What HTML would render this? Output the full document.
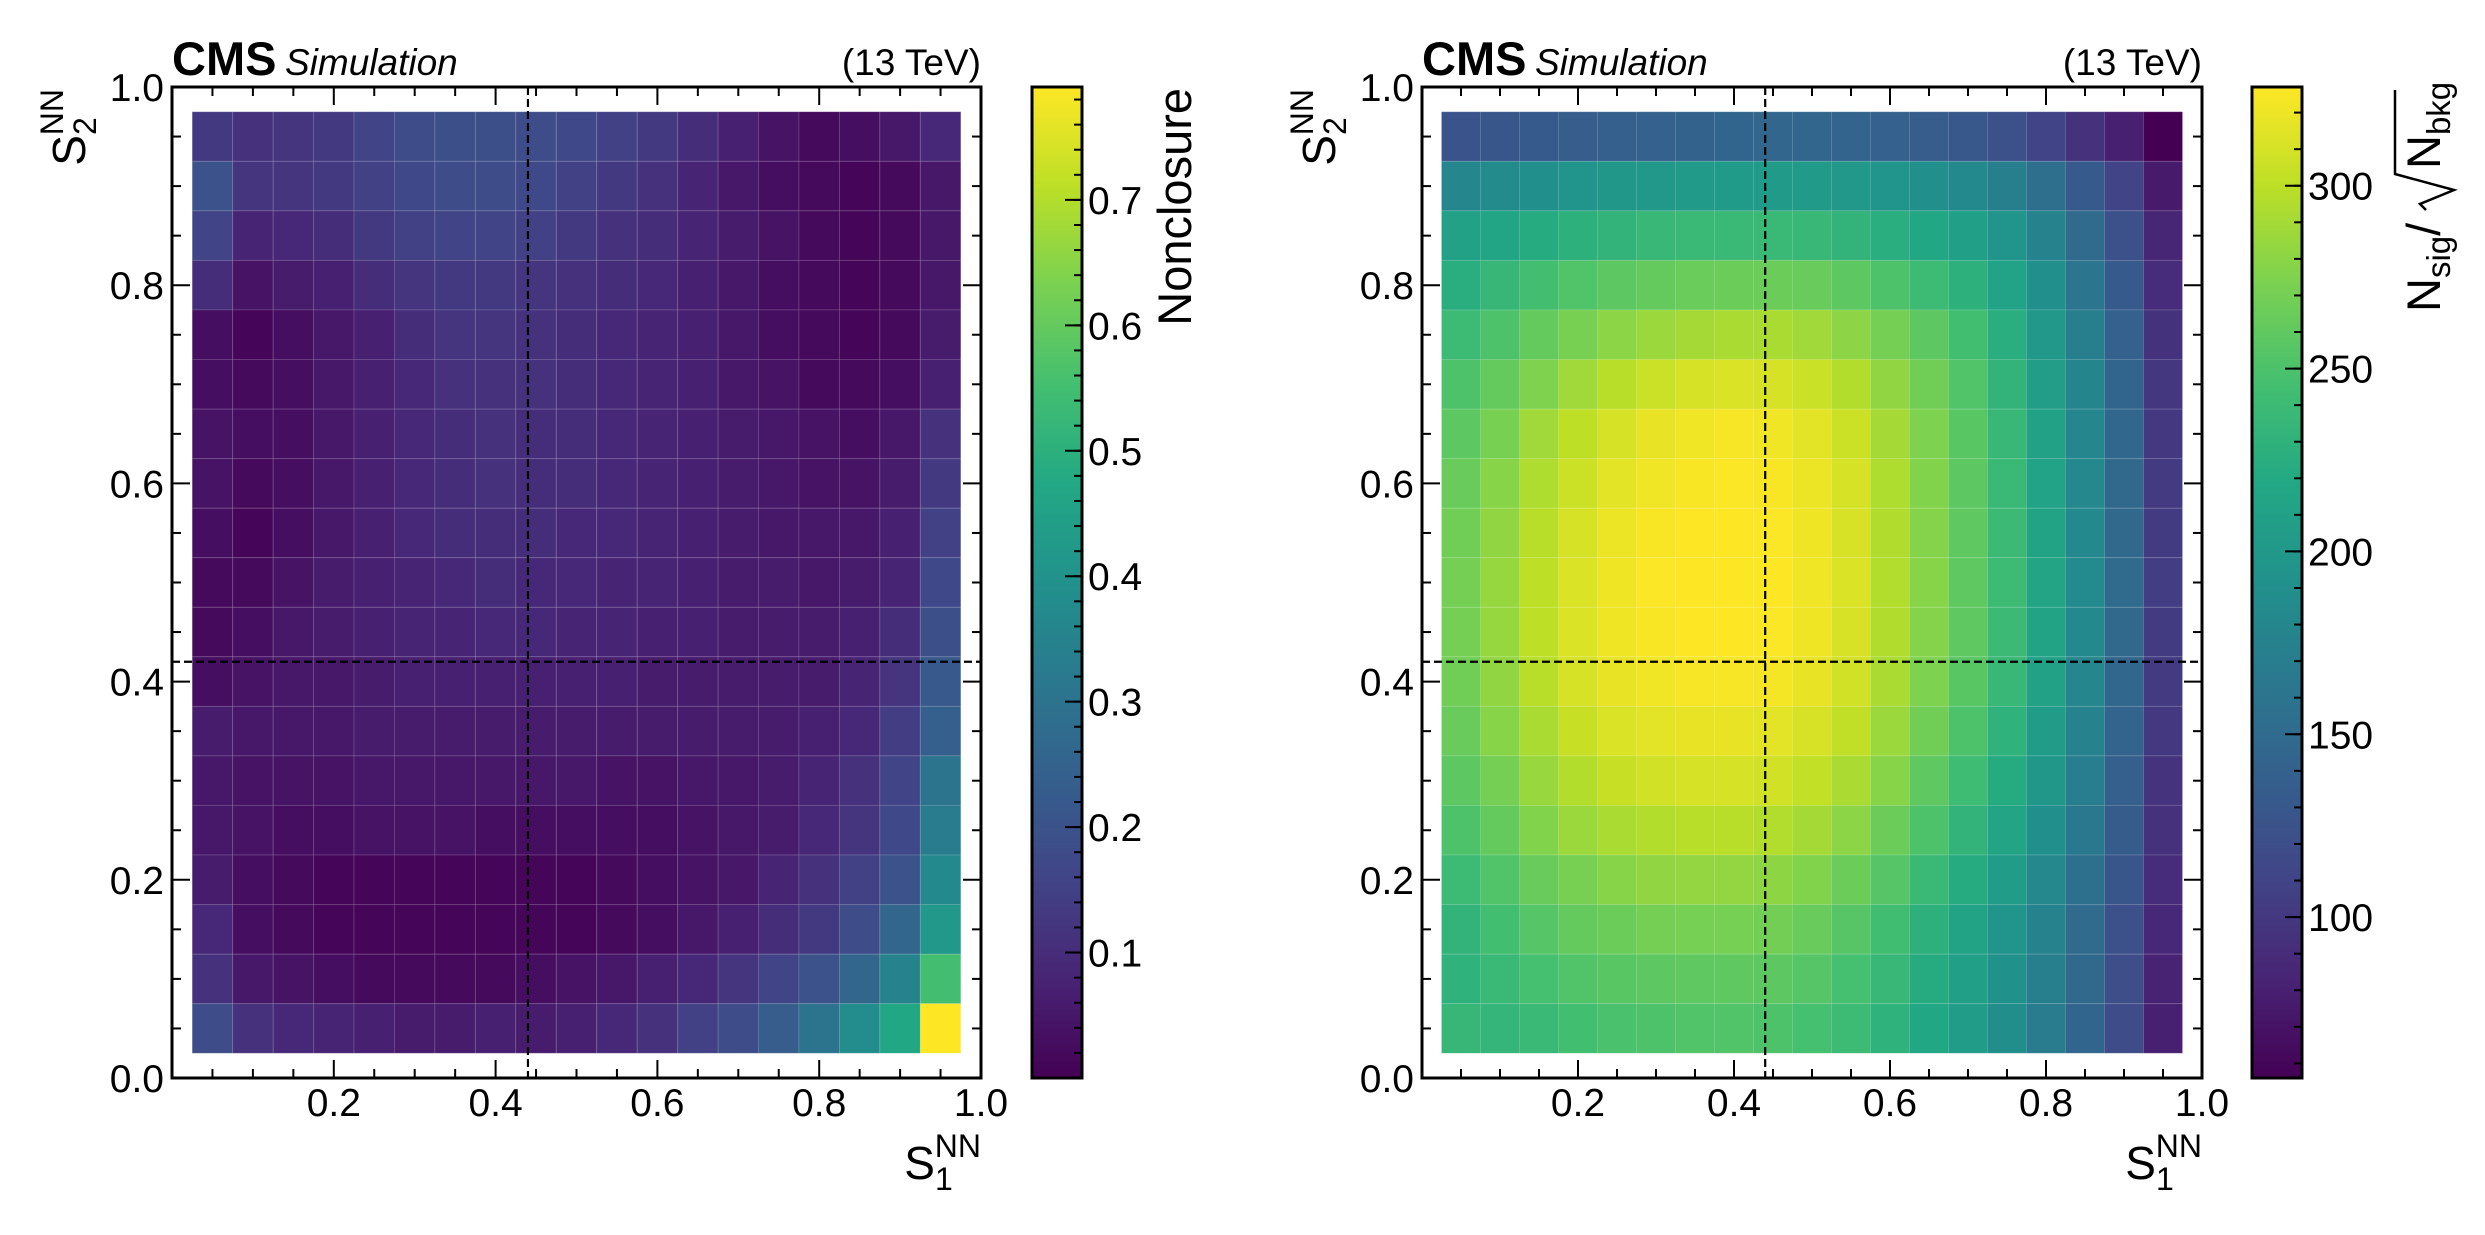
<!DOCTYPE html>
<html><head><meta charset="utf-8"><style>
html,body{margin:0;padding:0;background:#fff;}
svg{display:block;font-family:"Liberation Sans",sans-serif;}
</style></head><body>
<svg id="fig" xmlns="http://www.w3.org/2000/svg" width="2485" height="1235" viewBox="0 0 2485 1235">
<defs>
<linearGradient id="vir" x1="0" y1="1" x2="0" y2="0">
<stop offset="0" stop-color="#440154"/><stop offset="0.1" stop-color="#482475"/><stop offset="0.2" stop-color="#414487"/><stop offset="0.3" stop-color="#355f8d"/><stop offset="0.4" stop-color="#2a788e"/><stop offset="0.5" stop-color="#21918c"/><stop offset="0.6" stop-color="#22a884"/><stop offset="0.7" stop-color="#44bf70"/><stop offset="0.8" stop-color="#7ad151"/><stop offset="0.9" stop-color="#bddf26"/><stop offset="1" stop-color="#fde725"/>
</linearGradient>
</defs>
</svg>
<script>
// ---- data ----
const binCenters = [0.05,0.10,0.15,0.20,0.25,0.30,0.35,0.40,0.45,0.50,0.55,0.60,0.65,0.70,0.75,0.80,0.85,0.90,0.95];
const binWidth = 0.05;
// rows listed from top (S2=0.95) to bottom (S2=0.05)
const nonclosure = [
[0.13,0.11,0.12,0.13,0.16,0.18,0.19,0.19,0.18,0.17,0.15,0.13,0.10,0.07,0.04,0.02,0.03,0.05,0.09],
[0.20,0.12,0.12,0.13,0.15,0.17,0.18,0.18,0.17,0.15,0.13,0.11,0.08,0.05,0.03,0.02,0.01,0.02,0.05],
[0.16,0.08,0.09,0.10,0.13,0.15,0.16,0.16,0.15,0.13,0.11,0.10,0.08,0.06,0.04,0.02,0.01,0.02,0.05],
[0.10,0.04,0.06,0.07,0.10,0.12,0.13,0.13,0.12,0.11,0.10,0.09,0.07,0.05,0.03,0.02,0.01,0.02,0.05],
[0.03,0.01,0.03,0.05,0.07,0.10,0.12,0.12,0.11,0.10,0.09,0.08,0.07,0.05,0.03,0.02,0.01,0.02,0.06],
[0.03,0.02,0.03,0.05,0.07,0.09,0.11,0.11,0.11,0.10,0.09,0.08,0.07,0.05,0.04,0.02,0.02,0.03,0.07],
[0.04,0.03,0.03,0.05,0.07,0.09,0.10,0.11,0.10,0.10,0.09,0.08,0.07,0.06,0.05,0.04,0.03,0.05,0.11],
[0.04,0.02,0.03,0.05,0.07,0.09,0.10,0.11,0.10,0.10,0.09,0.08,0.07,0.06,0.05,0.04,0.04,0.06,0.13],
[0.03,0.01,0.03,0.05,0.07,0.09,0.10,0.10,0.10,0.09,0.09,0.08,0.07,0.06,0.05,0.05,0.05,0.07,0.15],
[0.02,0.02,0.04,0.06,0.07,0.08,0.09,0.10,0.09,0.09,0.08,0.08,0.07,0.06,0.06,0.05,0.06,0.08,0.17],
[0.02,0.03,0.05,0.06,0.07,0.08,0.08,0.09,0.09,0.08,0.08,0.07,0.07,0.06,0.06,0.06,0.07,0.10,0.19],
[0.03,0.04,0.05,0.05,0.06,0.07,0.07,0.07,0.07,0.07,0.07,0.06,0.06,0.06,0.06,0.06,0.08,0.12,0.22],
[0.06,0.05,0.05,0.05,0.06,0.06,0.06,0.06,0.06,0.06,0.06,0.06,0.06,0.06,0.06,0.07,0.09,0.14,0.24],
[0.05,0.04,0.04,0.04,0.05,0.05,0.05,0.05,0.05,0.05,0.04,0.04,0.05,0.05,0.06,0.08,0.11,0.16,0.30],
[0.05,0.04,0.03,0.03,0.04,0.04,0.04,0.03,0.03,0.03,0.03,0.03,0.04,0.05,0.06,0.09,0.12,0.17,0.33],
[0.06,0.03,0.02,0.01,0.01,0.01,0.01,0.01,0.01,0.01,0.02,0.03,0.04,0.05,0.08,0.11,0.15,0.20,0.37],
[0.09,0.03,0.02,0.01,0.01,0.01,0.01,0.01,0.01,0.01,0.02,0.03,0.05,0.07,0.10,0.13,0.18,0.26,0.42],
[0.11,0.05,0.04,0.03,0.02,0.02,0.02,0.02,0.03,0.04,0.05,0.07,0.09,0.12,0.16,0.20,0.26,0.35,0.55],
[0.18,0.11,0.09,0.08,0.07,0.06,0.06,0.07,0.06,0.07,0.09,0.11,0.15,0.18,0.23,0.30,0.38,0.47,0.79]
];
const significance = [
[125,128,132,135,138,140,142,144,145,145,143,140,135,130,122,110,95,80,56],
[180,185,190,195,198,200,202,203,203,202,200,196,190,183,172,155,132,110,75],
[210,215,222,228,232,236,238,238,238,236,232,226,218,208,195,175,150,122,85],
[225,235,245,252,258,262,265,266,266,264,258,250,240,228,212,190,162,132,90],
[240,250,262,272,280,286,290,292,292,288,280,270,258,244,225,200,172,140,95],
[250,262,275,288,298,305,310,312,310,305,296,282,268,252,232,206,178,144,98],
[258,272,288,300,310,318,322,324,322,316,306,290,274,256,236,210,180,146,100],
[264,278,294,306,316,322,325,326,325,320,310,294,276,258,238,212,182,148,102],
[268,282,298,310,320,325,327,327,326,321,311,295,277,259,239,213,183,148,103],
[270,284,300,312,321,326,327,327,327,322,312,296,278,260,240,214,184,149,104],
[270,284,300,312,321,325,327,327,326,321,311,295,277,259,239,213,183,148,103],
[268,282,298,310,318,322,324,324,323,318,308,292,274,256,236,210,180,146,102],
[264,278,292,304,312,316,318,318,316,311,301,286,268,250,230,205,176,143,100],
[258,270,285,296,304,308,310,310,308,302,292,278,260,242,222,198,170,138,96],
[250,262,276,286,292,296,298,298,296,290,280,266,250,232,214,190,164,134,94],
[240,252,264,272,278,282,283,283,281,276,266,254,238,222,204,182,156,128,90],
[232,244,254,262,266,270,271,271,269,264,255,243,228,213,196,175,150,122,86],
[230,238,246,252,256,258,260,260,258,254,246,236,222,208,192,172,148,120,82],
[235,234,238,244,248,250,252,252,250,246,240,230,218,204,188,168,144,118,80]
];
const axisTicks = [0.0,0.2,0.4,0.6,0.8,1.0];
const axisTickLabels = ["0.0","0.2","0.4","0.6","0.8","1.0"];
const leftCbTicks = [0.1,0.2,0.3,0.4,0.5,0.6,0.7];
const leftCbRange = [0.0,0.79];
const rightCbTicks = [100,150,200,250,300];
const rightCbRange = [56,327];
const cutX = 0.44, cutY = 0.42;

const NS="http://www.w3.org/2000/svg";
const svg=document.getElementById('fig');
function el(tag,attrs,parent){const e=document.createElementNS(NS,tag);for(const k in attrs)e.setAttribute(k,attrs[k]);(parent||svg).appendChild(e);return e;}
const vir=["#440154","#482475","#414487","#355f8d","#2a788e","#21918c","#22a884","#44bf70","#7ad151","#bddf26","#fde725"];
function hex(h){return[parseInt(h.substr(1,2),16),parseInt(h.substr(3,2),16),parseInt(h.substr(5,2),16)];}
function viridis(t){t=Math.max(0,Math.min(1,t));const f=t*10;const i=Math.min(9,Math.floor(f));const r=f-i;const a=hex(vir[i]),b=hex(vir[i+1]);return"rgb("+a.map((v,k)=>Math.round(v+(b[k]-v)*r)).join(",")+")";}

function panel(cfg){
  const {x0,x1,y0,y1}=cfg;
  const sx=v=>x0+v*(x1-x0), sy=v=>y1-v*(y1-y0);
  const g=el('g',{});
  
  
  const [vmin,vmax]=cfg.range;
  for(let r=0;r<cfg.data.length;r++){
    const yc=binCenters[binCenters.length-1-r];
    for(let c=0;c<binCenters.length;c++){
      const xc=binCenters[c];
      const v=cfg.data[r][c];
      const rect=el('rect',{x:sx(xc-binWidth/2),y:sy(yc+binWidth/2),width:sx(xc+binWidth/2)-sx(xc-binWidth/2),height:sy(yc-binWidth/2)-sy(yc+binWidth/2),fill:viridis((v-vmin)/(vmax-vmin)),stroke:"rgba(255,255,255,0.12)","stroke-width":1},g);
      
      
    }
  }
  const vl=el('line',{x1:sx(cutX),x2:sx(cutX),y1:y0,y2:y1,stroke:"#000","stroke-width":2.2,"stroke-dasharray":"8,4"},g);
  
  
  const hl=el('line',{x1:x0,x2:x1,y1:sy(cutY),y2:sy(cutY),stroke:"#000","stroke-width":2.2,"stroke-dasharray":"8,4"},g);
  
  
  for(let i=0;i<=20;i++){
    const v=i*0.05;const major=(i%4===0);const L=major?18:9;
    el('line',{x1:sx(v),x2:sx(v),y1:y1,y2:y1-L,stroke:"#000","stroke-width":2},g);
    el('line',{x1:sx(v),x2:sx(v),y1:y0,y2:y0+L,stroke:"#000","stroke-width":2},g);
    el('line',{x1:x0,x2:x0+L,y1:sy(v),y2:sy(v),stroke:"#000","stroke-width":2},g);
    el('line',{x1:x1,x2:x1-L,y1:sy(v),y2:sy(v),stroke:"#000","stroke-width":2},g);
  }
  const fr=el('rect',{x:x0,y:y0,width:x1-x0,height:y1-y0,fill:"none",stroke:"#000","stroke-width":3},g);
  
  
  axisTicks.forEach((v,i)=>{
    const t=el('text',{x:x0-8,y:sy(v)+14,"font-size":39,"text-anchor":"end"},g);t.textContent=axisTickLabels[i];
    
    
    if(i>0){const u=el('text',{x:sx(v),y:y1+38,"font-size":39,"text-anchor":"middle"},g);u.textContent=axisTickLabels[i];
    
    }
  });
  const xt=el('text',{x:x1,y:y1+101,"font-size":46,"text-anchor":"end"},g);
  xt.innerHTML='S<tspan font-size="32" dy="11">1</tspan><tspan font-size="32" dx="-18" dy="-33">NN</tspan>';
  
  
  const yt=el('text',{x:0,y:0,"font-size":46,"text-anchor":"end",transform:`translate(${x0-87},${y0+2}) rotate(-90)`},g);
  yt.innerHTML='S<tspan font-size="32" dy="11">2</tspan><tspan font-size="32" dx="-18" dy="-33">NN</tspan>';
  
  
  const cms=el('text',{x:x0,y:y0-12,"font-size":47,"font-weight":"bold"},g);cms.textContent='CMS';
  
  
  const sim=el('text',{x:x0+113,y:y0-12,"font-size":37,"font-style":"italic"},g);sim.textContent='Simulation';
  
  
  const tev=el('text',{x:x1,y:y0-12,"font-size":37,"text-anchor":"end"},g);tev.textContent='(13 TeV)';
  
  
  const cx0=cfg.cb0,cx1=cfg.cb0+50;
  const cb=el('rect',{x:cx0,y:y0,width:50,height:y1-y0,fill:"url(#vir)",stroke:"#000","stroke-width":3},g);
  
  
  const cy=v=>y1-(v-vmin)/(vmax-vmin)*(y1-y0);
  for(let m=Math.ceil(vmin/cfg.minor);m*cfg.minor<=vmax;m++){
    const v=m*cfg.minor;if(v<=vmin)continue;
    el('line',{x1:cx1,x2:cx1-8,y1:cy(v),y2:cy(v),stroke:"#000","stroke-width":2},g);
  }
  cfg.ticks.forEach(v=>{
    el('line',{x1:cx1,x2:cx1-17,y1:cy(v),y2:cy(v),stroke:"#000","stroke-width":2},g);
    const t=el('text',{x:cx1+6,y:cy(v)+14,"font-size":39},g);t.textContent=String(v);
    
    
  });
  return {g,cx1};
}

const L=panel({name:'nonclosure-panel',x0:172,x1:981,y0:87,y1:1078,data:nonclosure,range:leftCbRange,cb0:1032,ticks:leftCbTicks,minor:0.02});
const R=panel({name:'significance-panel',x0:1422,x1:2202,y0:87,y1:1078,data:significance,range:rightCbRange,cb0:2252,ticks:rightCbTicks,minor:10});

const lt=el('text',{x:0,y:0,"font-size":47,"text-anchor":"end",transform:"translate(1191,88) rotate(-90)"});
lt.textContent='Nonclosure';



const rg=el('g',{transform:"translate(2440,312) rotate(-90)"});


const rt=el('text',{x:0,y:0,"font-size":47},rg);
rt.innerHTML='N<tspan font-size="33" dy="10">sig</tspan><tspan dy="-10">/</tspan>';
el('polyline',{points:"102,-14 108,-20 122,14 138,-45 222,-45",fill:"none",stroke:"#000","stroke-width":2.5},rg);
const rt2=el('text',{x:143,y:0,"font-size":47},rg);
rt2.innerHTML='N<tspan font-size="33" dy="10">bkg</tspan>';
</script>
</body></html>
